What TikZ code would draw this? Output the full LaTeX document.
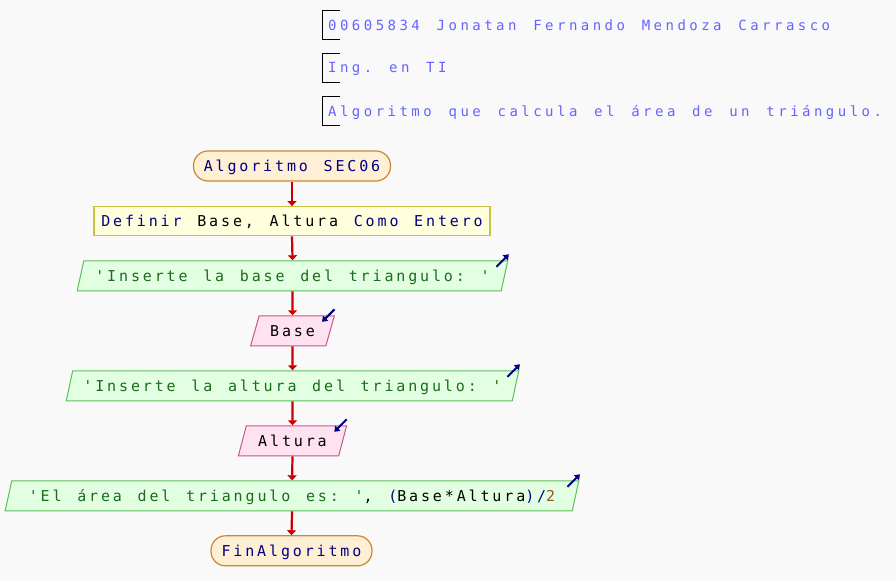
\documentclass[tikz,border=0pt]{standalone}
\usepackage{fontspec}
\usetikzlibrary{calc,shapes.geometric,arrows.meta}
\newfontfamily\flowfont[LetterSpace=19.1,WordSpace=1.318,Ligatures=TeXOff]{DejaVu Sans Mono}
\newfontfamily\notefont[LetterSpace=24.8,WordSpace=1.41,Ligatures=TeXOff]{DejaVu Sans Mono}
\definecolor{background}{HTML}{F9F9F9}
\definecolor{notecol}{HTML}{6464FF}
\definecolor{navy}{HTML}{000080}
\definecolor{strgreen}{HTML}{1E6A1E}
\definecolor{numbrown}{HTML}{A0522D}
\definecolor{flowred}{HTML}{CC0000}
\definecolor{termfill}{HTML}{FFEFD5}
\definecolor{termline}{HTML}{C88A2E}
\definecolor{procfill}{HTML}{FFFFDD}
\definecolor{procline}{HTML}{C8C33C}
\definecolor{outfill}{HTML}{E2FFE2}
\definecolor{outline}{HTML}{5CBF5C}
\definecolor{infill}{HTML}{FFE2F0}
\definecolor{inline}{HTML}{C8558C}
\newcommand\kwd[1]{\textcolor{navy}{#1}}
\newcommand\strg[1]{\textcolor{strgreen}{#1}}
\newcommand\numb[1]{\textcolor{numbrown}{#1}}
\frenchspacing

\begin{document}
\begin{tikzpicture}[x=1pt,y=-1pt,
  flowtext/.style={font=\flowfont\fontsize{15}{17}\selectfont, text height=13pt, text depth=2.1pt, inner xsep=2pt, inner ysep=1pt},
  terminal/.style={flowtext, draw=termline, fill=termfill, line width=1.2pt, rounded corners=14.5pt, minimum height=30pt},
  procbox/.style={flowtext, draw=procline, fill=procfill, line width=1.2pt, minimum height=29pt},
  slanted/.style={flowtext, trapezium, trapezium left angle=70, trapezium right angle=110, trapezium stretches=true, line width=1pt, minimum height=30pt},
  outbox/.style={slanted, draw=outline, fill=outfill},
  inbox/.style={slanted, draw=inline, fill=infill},
  flow/.style={flowred, line width=2.2pt, -{Triangle[length=5pt,width=9pt]}},
  ioicon/.style={navy, line width=2pt, -{Triangle[length=5pt,width=7pt]}},
  notetext/.style={font=\notefont\fontsize{14}{16}\selectfont, text=notecol, text height=12.2pt, text depth=2pt, inner sep=0pt, anchor=west},
  bracket/.style={black, line width=1.3pt}]

\fill[background] (0,0) rectangle (896,581);
\useasboundingbox (0,0) rectangle (896,581);

%notes on top
\node[notetext] (note1) at (328,25) {\frenchspacing 00605834 Jonatan Fernando Mendoza Carrasco};
\node[notetext] (note2) at (328,67.7) {\frenchspacing Ing. en TI};
\node[notetext] (note3) at (328,111) {\frenchspacing Algoritmo que calcula el área de un triángulo.};
\foreach \n in {note1,note2,note3}
  \draw[bracket] ($(\n.west)+(12,-14.5)$) -- ($(\n.west)+(-5.7,-14.5)$) -- ($(\n.west)+(-5.7,14.5)$) -- ($(\n.west)+(12,14.5)$);

%flowchart
\node[terminal, minimum width=197pt] (algStart) at (292,166) {\kwd{Algoritmo SEC06}};
\node[procbox, minimum width=396pt] (defVars) at (292,221.2) {\frenchspacing\kwd{Definir} Base, Altura \kwd{Como Entero}};
\node[outbox, minimum width=432pt] (outBase) at (292.5,275.8) {\frenchspacing\strg{'Inserte la base del triangulo: '}};
\node[inbox, minimum width=84pt] (inBase) at (292.5,330.8) {Base};
\node[outbox, minimum width=455pt] (outAlt) at (292.5,385.8) {\frenchspacing\strg{'Inserte la altura del triangulo: '}};
\node[inbox, minimum width=109pt] (inAlt) at (292.5,440.8) {Altura};
\node[outbox, minimum width=577pt] (outArea) at (292,495.8) {\frenchspacing\strg{'El área del triangulo es: '}, \kwd{(}Base*Altura\kwd{)/}\numb{2}};
\node[terminal, minimum width=161pt] (algEnd) at (291.5,550.8) {\kwd{FinAlgoritmo}};

%arrows between steps
\foreach \a/\b in {algStart/defVars, defVars/outBase, outBase/inBase, inBase/outAlt, outAlt/inAlt, inAlt/outArea, outArea/algEnd}
  \draw[flow] (\a.south) -- (\b.north);

%read and write marks
\foreach \n in {outBase,outAlt,outArea}
  \draw[ioicon] ($(\n.top right corner)+(-12,6.5)$) -- ($(\n.top right corner)+(0.5,-6)$);
\foreach \n in {inBase,inAlt}
  \draw[ioicon] ($(\n.top right corner)+(-0.5,-6)$) -- ($(\n.top right corner)+(-13,6.5)$);
\end{tikzpicture}
\end{document}
